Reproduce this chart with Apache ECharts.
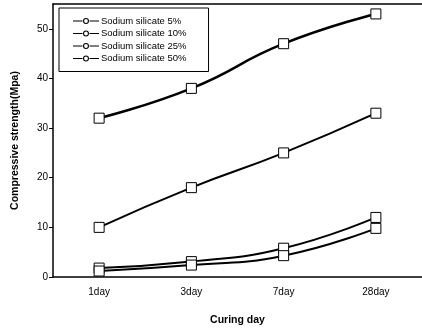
<!DOCTYPE html>
<html>
<head>
<meta charset="utf-8">
<script src="https://cdn.jsdelivr.net/npm/echarts@6/dist/echarts.min.js"></script>
<style>
  html, body { margin: 0; padding: 0; background: #fff; }
  #chart { width: 422px; height: 331px; }
</style>
</head>
<body>
<div id="chart"></div>
<script>
// 养护龄期
const days = ['1day', '3day', '7day', '28day']
const seriesNames = ['Sodium silicate 5%', 'Sodium silicate 10%', 'Sodium silicate 25%', 'Sodium silicate 50%']
const ss5 = [32, 38, 47, 53]
const ss10 = [10, 18, 25, 33]
const ss25 = [1.8, 3.1, 5.8, 12]
const ss50 = [1.2, 2.4, 4.3, 9.8]
const yTicks = [0, 10, 20, 30, 40, 50]

const allValues = [ss5, ss10, ss25, ss50]
const lineWidths = [2.5, 2, 2, 2]

// legend icon: short line + hollow circle
const legendIcon = 'path://M0,4.4 H9.5 V5.6 H0 Z M16.5,4.4 H26 V5.6 H16.5 Z M13,2 A3,3 0 1 1 12.99,2 Z M13,3.1 A1.9,1.9 0 1 0 13.01,3.1 Z'

let myEcharts = echarts.init(document.getElementById('chart'))
let option = {
  animation: false,
  textStyle: { fontFamily: 'Liberation Sans, Arial, sans-serif', color: '#000' },
  grid: { left: 53, top: 4, width: 370, bottom: 47 },
  legend: {
    orient: 'vertical',
    left: 59,
    top: 8,
    padding: [8, 22, 8, 14],
    itemWidth: 26,
    itemHeight: 8,
    itemGap: 2.5,
    borderColor: '#000',
    borderWidth: 1,
    backgroundColor: '#fff',
    icon: legendIcon,
    itemStyle: { color: '#000', borderWidth: 0 },
    textStyle: { fontSize: 9.5, color: '#000', padding: [0, 0, 0, -3] },
    data: seriesNames
  },
  xAxis: [
    {
      type: 'category',
      data: days,
      boundaryGap: true,
      name: 'Curing day',
      nameLocation: 'middle',
      nameGap: 38,
      nameTextStyle: { fontSize: 10.5, fontWeight: 'bold', color: '#000' },
      axisLine: { lineStyle: { color: '#000', width: 1.5 } },
      axisTick: { alignWithLabel: true, length: 5, lineStyle: { color: '#000' } },
      axisLabel: { fontSize: 10, color: '#000', margin: 10 }
    },
    {
      type: 'category',
      data: days,
      position: 'top',
      axisLine: { show: true, lineStyle: { color: '#000', width: 1.5 } },
      axisTick: { show: false },
      axisLabel: { show: false }
    }
  ],
  yAxis: {
    type: 'value',
    min: 0,
    max: 55,
    interval: 10,
    name: 'Compressive strength(Mpa)',
    nameLocation: 'middle',
    nameGap: 32,
    nameTextStyle: { fontSize: 10.5, fontWeight: 'bold', color: '#000' },
    axisLine: { show: true, lineStyle: { color: '#000', width: 1.5 } },
    axisTick: { show: true, length: 4, customValues: yTicks, lineStyle: { color: '#000' } },
    axisLabel: { fontSize: 10, color: '#000', margin: 5, customValues: yTicks },
    splitLine: { show: false }
  },
  series: seriesNames.map((name, i) => ({
    name: name,
    type: 'line',
    data: allValues[i],
    smooth: true,
    symbol: 'rect',
    symbolSize: 10,
    color: '#000',
    lineStyle: { color: '#000', width: lineWidths[i] },
    itemStyle: { color: '#fff', borderColor: '#000', borderWidth: 1 }
  }))
}
option && myEcharts.setOption(option)
</script>
</body>
</html>
